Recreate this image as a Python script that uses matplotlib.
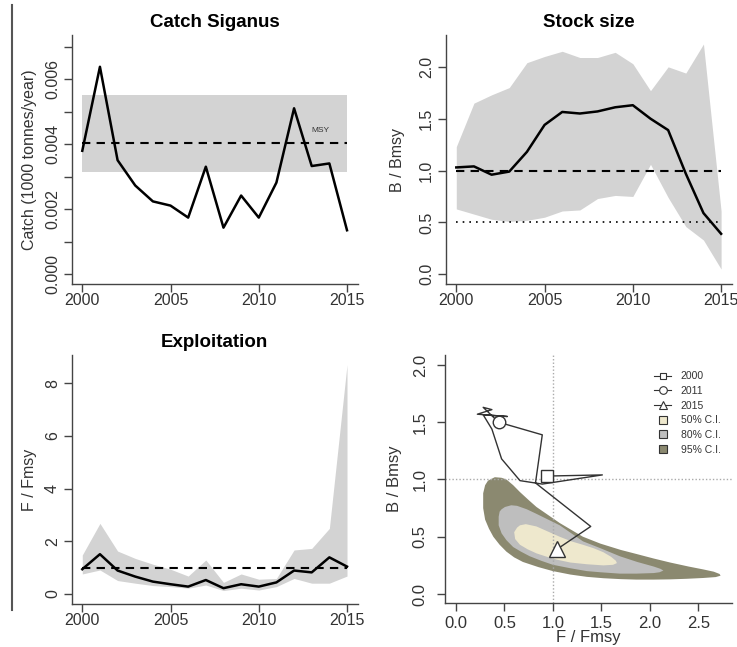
import numpy as np
import matplotlib
matplotlib.use("Agg")
import matplotlib.pyplot as plt
from matplotlib.lines import Line2D

plt.rcParams['font.family'] = ['Liberation Sans', 'DejaVu Sans']

years = list(range(2000, 2016))

catch = [0.0038, 0.00639, 0.00351, 0.00273, 0.00224, 0.00211, 0.00174, 0.00331,
         0.00143, 0.00242, 0.00174, 0.00282, 0.00511, 0.00333, 0.00341, 0.00135]
msy = 0.00404
msy_lo, msy_hi = 0.00316, 0.00551

bbmsy = [1.03, 1.04, 0.96, 0.99, 1.18, 1.44, 1.565, 1.55, 1.57, 1.61, 1.63, 1.50, 1.39, 0.97, 0.59, 0.39]
bbmsy_hi = [1.23, 1.65, 1.73, 1.80, 2.04, 2.10, 2.15, 2.09, 2.09, 2.14, 2.03, 1.77, 2.00, 1.94, 2.22, 0.61]
bbmsy_lo = [0.63, 0.58, 0.53, 0.51, 0.52, 0.55, 0.61, 0.62, 0.73, 0.76, 0.75, 1.06, 0.74, 0.46, 0.33, 0.05]

ffmsy = [0.94, 1.51, 0.89, 0.66, 0.47, 0.37, 0.28, 0.53, 0.22, 0.37, 0.28, 0.44, 0.89, 0.82, 1.39, 1.04]
ffmsy_hi = [1.48, 2.68, 1.63, 1.35, 1.13, 0.94, 0.68, 1.29, 0.44, 0.76, 0.56, 0.59, 1.67, 1.73, 2.49, 8.70]
ffmsy_lo = [0.76, 0.91, 0.51, 0.41, 0.32, 0.28, 0.22, 0.34, 0.13, 0.22, 0.15, 0.28, 0.59, 0.41, 0.41, 0.68]

# confidence region outlines for the kobe plot (F/Fmsy, B/Bmsy)
ci95 = [(0.33, 0.99), (0.40, 1.02), (0.47, 1.015), (0.52, 1.0), (0.59, 0.95), (0.66, 0.89),
        (0.75, 0.82), (0.83, 0.76), (0.95, 0.69), (1.07, 0.62), (1.19, 0.56), (1.31, 0.50),
        (1.49, 0.44), (1.70, 0.385), (1.86, 0.35), (2.04, 0.31), (2.21, 0.275), (2.40, 0.24),
        (2.55, 0.215), (2.66, 0.195), (2.72, 0.175), (2.73, 0.16), (2.68, 0.148), (2.55, 0.14),
        (2.38, 0.133), (2.21, 0.128), (2.04, 0.126), (1.86, 0.126), (1.70, 0.13), (1.52, 0.138),
        (1.35, 0.15), (1.18, 0.17), (1.0, 0.20), (0.85, 0.235), (0.69, 0.28), (0.60, 0.32),
        (0.52, 0.37), (0.45, 0.43), (0.385, 0.50), (0.34, 0.57), (0.30, 0.65), (0.28, 0.75),
        (0.28, 0.88), (0.30, 0.95)]
ci80 = [(0.47, 0.74), (0.505, 0.76), (0.57, 0.775), (0.63, 0.77), (0.73, 0.74), (0.83, 0.70),
        (0.95, 0.65), (1.07, 0.60), (1.19, 0.53), (1.31, 0.46), (1.49, 0.40), (1.69, 0.33),
        (1.87, 0.28), (2.04, 0.24), (2.11, 0.22), (2.14, 0.205), (2.10, 0.19), (2.04, 0.183),
        (1.86, 0.178), (1.69, 0.178), (1.49, 0.19), (1.35, 0.20), (1.18, 0.225), (1.0, 0.255),
        (0.88, 0.29), (0.76, 0.33), (0.67, 0.37), (0.59, 0.41), (0.52, 0.47), (0.47, 0.53),
        (0.44, 0.60), (0.44, 0.675), (0.45, 0.72)]
ci50 = [(0.63, 0.58), (0.66, 0.60), (0.72, 0.61), (0.83, 0.59), (0.95, 0.545), (1.07, 0.50),
        (1.19, 0.46), (1.31, 0.43), (1.42, 0.40), (1.52, 0.365), (1.60, 0.325), (1.65, 0.29),
        (1.66, 0.27), (1.62, 0.255), (1.52, 0.25), (1.35, 0.26), (1.18, 0.275), (1.04, 0.30),
        (0.92, 0.33), (0.83, 0.355), (0.74, 0.39), (0.66, 0.43), (0.61, 0.48), (0.60, 0.54)]

axcol = '#444444'
txtcol = '#333333'
W, H = 737, 647

fig = plt.figure(figsize=(W / 100, H / 100), dpi=100)


def make_ax(l, t, r, b):
    ax = fig.add_axes([l / W, 1 - b / H, (r - l) / W, (b - t) / H])
    for s in ['top', 'right']:
        ax.spines[s].set_visible(False)
    for s in ['left', 'bottom']:
        ax.spines[s].set_color(axcol)
        ax.spines[s].set_linewidth(1.0)
    ax.tick_params(colors=axcol, labelcolor=txtcol, length=5.5, width=1.0, labelsize=11.5)
    ax.tick_params(axis='x', pad=1)
    ax.tick_params(axis='y', pad=3, labelrotation=90)
    return ax


def fix_ylabels(ax):
    for lab in ax.get_yticklabels():
        lab.set_va('center')


# catch
ax1 = make_ax(71.7, 35, 357.6, 284)
ax1.fill_between([2000, 2015], msy_lo, msy_hi, color='#d3d3d3', lw=0)
ax1.plot([2000, 2015], [msy, msy], color='black', lw=1.5, ls=(0, (4, 3)))
ax1.plot(years, catch, color='black', lw=1.8)
ax1.text(2013.47, 0.00443, 'MSY', fontsize=6, color=txtcol, ha='center', va='center')
ax1.set_xlim(1999.4, 2015.6)
ax1.set_ylim(-0.000307, 0.00737)
ax1.set_xticks([2000, 2005, 2010, 2015])
yt = [0, 0.001, 0.002, 0.003, 0.004, 0.005, 0.006, 0.007]
ax1.set_yticks(yt)
ax1.set_yticklabels(['0.000', '', '0.002', '', '0.004', '', '0.006', ''])
fix_ylabels(ax1)
ax1.set_title('Catch Siganus', fontsize=13.5, fontweight='bold', pad=6)
ax1.set_ylabel('Catch (1000 tonnes/year)', fontsize=11.5, color=txtcol, labelpad=6)

# stock size
ax2 = make_ax(445.7, 35, 731.7, 284)
ax2.fill_between(years, bbmsy_lo, bbmsy_hi, color='#d3d3d3', lw=0)
ax2.plot([2000, 2015], [1, 1], color='black', lw=1.5, ls=(0, (4, 3)))
ax2.plot([2000, 2015], [0.5, 0.5], color='black', lw=1.2, ls=(0, (1, 3)))
ax2.plot(years, bbmsy, color='black', lw=1.8)
ax2.set_xlim(1999.4, 2015.6)
ax2.set_ylim(-0.094, 2.307)
ax2.set_xticks([2000, 2005, 2010, 2015])
ax2.set_yticks([0, 0.5, 1.0, 1.5, 2.0])
ax2.set_yticklabels(['0.0', '0.5', '1.0', '1.5', '2.0'])
fix_ylabels(ax2)
ax2.set_title('Stock size', fontsize=13.5, fontweight='bold', pad=6)
ax2.set_ylabel('B / Bmsy', fontsize=11.5, color=txtcol, labelpad=10)

# exploitation
ax3 = make_ax(71.7, 355, 357.6, 604)
ax3.fill_between(years, ffmsy_lo, ffmsy_hi, color='#d3d3d3', lw=0)
ax3.plot([2000, 2015], [1, 1], color='black', lw=1.5, ls=(0, (4, 3)))
ax3.plot(years, ffmsy, color='black', lw=1.8)
ax3.set_xlim(1999.4, 2015.6)
ax3.set_ylim(-0.38, 9.07)
ax3.set_xticks([2000, 2005, 2010, 2015])
ax3.set_yticks([0, 2, 4, 6, 8])
fix_ylabels(ax3)
ax3.set_title('Exploitation', fontsize=13.5, fontweight='bold', pad=6)
ax3.set_ylabel('F / Fmsy', fontsize=11.5, color=txtcol, labelpad=6)

# kobe
ax4 = make_ax(445, 355, 731.7, 603.3)
for pts, col in [(ci95, '#8b8970'), (ci80, '#bebebe'), (ci50, '#eee8cd')]:
    xs = [p[0] for p in pts]
    ys = [p[1] for p in pts]
    ax4.fill(xs, ys, color=col, lw=0)
ax4.axvline(1, color='#aaaaaa', lw=1, ls=(0, (1, 1.5)))
ax4.axhline(1, color='#aaaaaa', lw=1, ls=(0, (1, 1.5)))
ax4.plot(ffmsy, bbmsy, color='#333333', lw=1.0)
ax4.plot(ffmsy[0], bbmsy[0], 's', ms=8, mfc='white', mec='#333333', mew=1.0)
ax4.plot(ffmsy[11], bbmsy[11], 'o', ms=9, mfc='white', mec='#333333', mew=1.0)
ax4.plot(ffmsy[-1], bbmsy[-1], '^', ms=11, mfc='white', mec='#333333', mew=1.0)
ax4.set_xlim(-0.114, 2.845)
ax4.set_ylim(-0.081, 2.087)
ax4.set_xticks([0, 0.5, 1.0, 1.5, 2.0, 2.5])
ax4.set_xticklabels(['0.0', '0.5', '1.0', '1.5', '2.0', '2.5'])
ax4.set_yticks([0, 0.5, 1.0, 1.5, 2.0])
ax4.set_yticklabels(['0.0', '0.5', '1.0', '1.5', '2.0'])
ax4.tick_params(axis='x', pad=4, labelsize=12)
ax4.tick_params(axis='y', pad=7, labelsize=12)
fix_ylabels(ax4)
ax4.set_xlabel('F / Fmsy', fontsize=12, color=txtcol, labelpad=-1)
ax4.set_ylabel('B / Bmsy', fontsize=12, color=txtcol, labelpad=8)

handles = [
    Line2D([], [], color='#333333', lw=0.8, marker='s', ms=5, mfc='white', mec='#333333', mew=0.8),
    Line2D([], [], color='#333333', lw=0.8, marker='o', ms=5.5, mfc='white', mec='#333333', mew=0.8),
    Line2D([], [], color='#333333', lw=0.8, marker='^', ms=6, mfc='white', mec='#333333', mew=0.8),
    Line2D([], [], ls='none', marker='s', ms=6, mfc='#eee8cd', mec='#333333', mew=0.8),
    Line2D([], [], ls='none', marker='s', ms=6, mfc='#bebebe', mec='#333333', mew=0.8),
    Line2D([], [], ls='none', marker='s', ms=6, mfc='#8b8970', mec='#333333', mew=0.8),
]
labels = ['2000', '2011', '2015', '50% C.I.', '80% C.I.', '95% C.I.']
leg = ax4.legend(handles, labels, loc='upper left', bbox_to_anchor=(0.71, 0.955), frameon=False,
                 fontsize=7.5, handlelength=1.7, handletextpad=0.9, labelspacing=0.45,
                 borderpad=0)
for t in leg.get_texts():
    t.set_color(txtcol)

# border line at the left of the page
fig.add_artist(Line2D([12.3 / W, 12.3 / W], [1 - 5 / H, 1 - 610 / H], color='#555555', lw=1.5))

fig.savefig('out.png', dpi=100)
